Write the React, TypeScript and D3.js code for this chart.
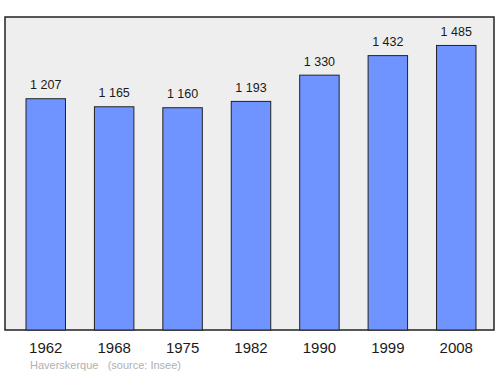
import React from "react";
import * as d3 from "d3";

const years = ["1962", "1968", "1975", "1982", "1990", "1999", "2008"];
const population = [1207, 1165, 1160, 1193, 1330, 1432, 1485];
const sourceText = "Haverskerque   (source: Insee)";

export default function App() {
  const W = 500, H = 374;
  const left = 5, right = 494, top = 17, bottom = 330;
  const x = d3.scaleBand<string>().domain(years).range([5, 497]).paddingInner(0.423).paddingOuter(0.307);
  const y = d3.scaleLinear().domain([0, d3.max(population)! * 1.1]).range([bottom, top]);
  const fmt = (v: number) => d3.format(",")(v).replace(/,/g, " ");
  return (
    <svg width={W} height={H} style={{ position: "absolute", left: 0, top: 0, fontFamily: "Liberation Sans, Arial, sans-serif" }}>
      <rect x={0} y={0} width={W} height={H} fill="#fff" />
      <rect x={left} y={top} width={right - left} height={bottom - top} fill="#eeeeee" stroke="#222" strokeWidth={1.5} />
      {years.map((yr, i) => {
        const bx = x(yr)!;
        const by = y(population[i]);
        return (
          <g key={yr}>
            <rect x={bx} y={by} width={x.bandwidth()} height={bottom - by} fill="#6f94ff" stroke="#222" strokeWidth={1} />
            <text x={bx + x.bandwidth() / 2} y={by - 9.5} textAnchor="middle" fontSize={12.5} fill="#1a1a1a">{fmt(population[i])}</text>
            <text x={bx + x.bandwidth() / 2} y={353} textAnchor="middle" fontSize={15} fill="#1a1a1a">{yr}</text>
          </g>
        );
      })}
      <text x={30} y={369} fontSize={11} fill="#b0b0b0" style={{ whiteSpace: "pre" }}>{sourceText}</text>
    </svg>
  );
}
